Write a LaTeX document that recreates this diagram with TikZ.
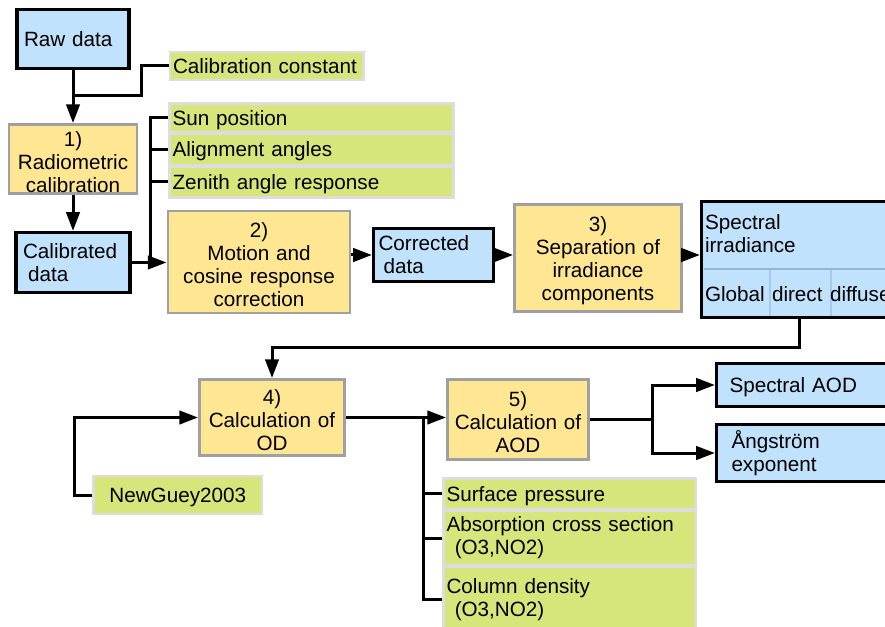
\documentclass[tikz,border=0pt]{standalone}
\usepackage{fontspec}
\setmainfont{Liberation Sans}
\usetikzlibrary{arrows.meta}
\definecolor{bluec}{RGB}{192,226,252}
\definecolor{yellowc}{RGB}{255,230,146}
\definecolor{greenc}{RGB}{214,230,122}
\definecolor{yborder}{RGB}{160,160,160}
\definecolor{gborder}{RGB}{221,221,221}
\definecolor{divh}{RGB}{150,182,208}
\definecolor{divv}{RGB}{168,202,230}
\newcommand\tstrut{\rule{0pt}{15.8pt}}
\newcommand\mybox[8]{%
  \pgfmathsetmacro\bxw{(#4-#2)*0.75}%
  \pgfmathsetmacro\bxh{(#5-#3)*0.75}%
  \pgfmathsetmacro\bxt{(#4-#2-2*#7)*0.75}%
  \pgfmathsetmacro\bxp{#7*0.75}%
  \node[#6, minimum width=\bxw pt, minimum height=\bxh pt, text width=\bxt pt, inner xsep=\bxp pt] (#1) at ({(#2+#4)/2},{(#3+#5)/2}) {#8};}
\begin{document}
\begin{tikzpicture}[x=0.75pt,y=-0.75pt,
  every node/.style={font=\fontsize{15.5}{17.25}\selectfont, inner ysep=0pt},
  bluebox/.style={fill=bluec, draw=black, line width=2.4pt},
  yellowbox/.style={fill=yellowc, draw=yborder, line width=2.2pt, align=center},
  greenbox/.style={fill=greenc, draw=gborder, line width=2pt},
  oneline/.style={text depth=0pt},
  line/.style={draw=black, line width=2.25pt},
  arr/.style={line, -{Triangle[length=14pt,width=10pt]}},
  plain/.style={inner sep=0pt, outer sep=0pt}
]
\clip (0,0) rectangle (885,627);

\mybox{raw}{17}{9.5}{129}{68.5}{bluebox, align=left}{7}{Raw data}
\mybox{cc}{170}{52}{363.5}{80}{greenbox, align=left, oneline}{3}{Calibration constant}
\mybox{rc}{9}{124.5}{137}{193.5}{yellowbox}{2}{\tstrut 1)\\Radiometric\\calibration}
\mybox{cd}{16}{232.5}{130}{292.5}{bluebox, align=left}{7}{Calibrated\\\hspace*{0.25em}data}
\mybox{sun}{169.5}{103.5}{453.5}{132}{greenbox, align=left, oneline}{3}{Sun position}
\mybox{ali}{169.5}{134}{453.5}{165}{greenbox, align=left, oneline}{3}{Alignment angles}
\mybox{zen}{169.5}{166.5}{453.5}{197.5}{greenbox, align=left, oneline}{3}{Zenith angle response}
\mybox{mc}{168}{211}{350}{313}{yellowbox}{4}{\tstrut 2)\\Motion and\\cosine response\\correction}
\mybox{cor}{373.5}{228.5}{493.5}{281.5}{bluebox, align=left}{5}{Corrected\\\hspace*{0.25em}data}
\mybox{sep}{514.5}{204.5}{681.5}{311.5}{yellowbox}{4}{\tstrut 3)\\Separation of\\irradiance\\components}
\mybox{spec}{701.5}{201.5}{900}{317.5}{bluebox}{4}{}
\draw[divh, line width=1.6pt] (703.5,269) -- (900,269);
\draw[divv, line width=0.8pt] (770,270) -- (770,316);
\draw[divv, line width=0.8pt] (831,270) -- (831,316);
\node[plain, anchor=west, align=left] (spectxt) at (705,234) {Spectral\\irradiance};
\node[plain, anchor=west] (glob) at (705,294) {Global};
\node[plain, anchor=west] (dir) at (772,294) {direct};
\node[plain, anchor=west] (dif) at (830,294) {diffuse};

\mybox{od}{199.5}{379.5}{344.5}{455.5}{yellowbox}{2}{\tstrut 4)\\Calculation of\\OD}
\mybox{aod}{447.5}{379.5}{588.5}{459.5}{yellowbox}{2}{\tstrut 5)\\Calculation of\\AOD}
\mybox{ng}{93.5}{476}{262}{514}{greenbox, align=center, oneline}{3}{NewGuey2003}
\mybox{surf}{443.5}{478.5}{696}{509}{greenbox, align=left, oneline}{3}{Surface pressure}
\mybox{abs}{443.5}{511}{696}{565}{greenbox, align=left}{3}{Absorption cross section\\\hspace*{0.4em}(O3,NO2)}
\mybox{col}{443.5}{567}{696}{632}{greenbox, align=left}{3}{Column density\\\hspace*{0.4em}(O3,NO2)}
\mybox{saod}{716.5}{363.5}{900}{406.5}{bluebox, align=left, oneline}{13}{Spectral AOD}
\mybox{ang}{716.5}{424.5}{900}{481.5}{bluebox, align=left}{15}{Ångström\\exponent}

% connectors
\coordinate (j1) at (141,96);
\draw[arr] (raw.south) -- (rc.north);
\draw[line] (cc.west) -| (j1) -- (j1 -| raw.south);
\draw[arr] (rc.south) -- (cd.north);
\coordinate (bxc) at (150,0);
\draw[arr] (cd.east) -- (cd.east -| mc.west);
\draw[line] (sun.west) -- (sun.west -| bxc) -- (bxc |- cd.east);
\draw[line] (ali.west) -- (ali.west -| bxc);
\draw[line] (zen.west) -- (zen.west -| bxc);
\draw[arr] (mc.east |- cor.west) -- (cor.west);
\draw[arr] (cor.east) -- (cor.east -| sep.west);
\draw[arr] (sep.east |- cor.east) -- (cor.east -| spec.west);
\coordinate (sx) at (799,347);
\draw[arr] (spec.south -| sx) -- (sx) -| (od.north);
\draw[arr] (ng.west) -- ++(-18,0) |- (od.west);
\draw[arr] (od.east) -- (od.east -| aod.west);
\coordinate (vx) at (423,0);
\draw[line] (od.east -| vx) |- (col.west);
\draw[line] (surf.west) -- (surf.west -| vx);
\draw[line] (abs.west) -- (abs.west -| vx);
\coordinate (ox) at (652,0);
\draw[arr] (aod.east) -- (aod.east -| ox) |- (saod.west);
\draw[arr] (aod.east -| ox) |- (ang.west);
\end{tikzpicture}
\end{document}
